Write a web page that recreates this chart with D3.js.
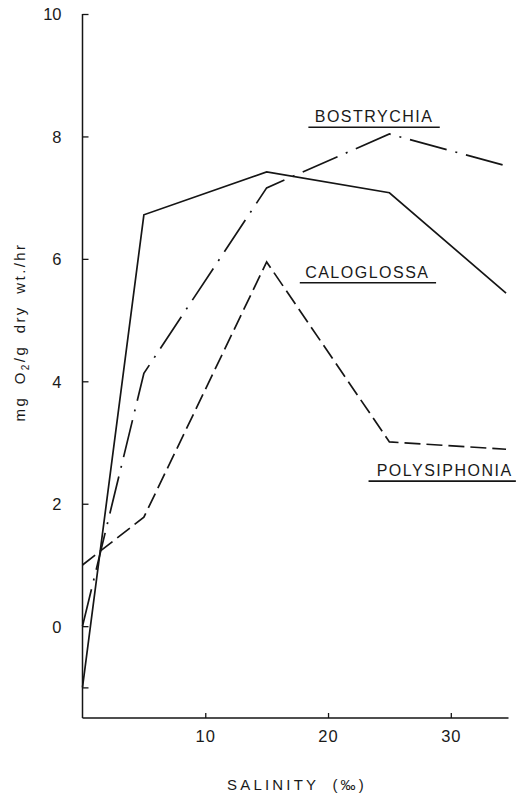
<!DOCTYPE html>
<html>
<head>
<meta charset="utf-8">
<script src="https://cdn.jsdelivr.net/npm/d3@7"></script>
<style>
  html, body { margin: 0; padding: 0; background: #fff; }
  svg { display: block; }
  text { font-family: "Liberation Sans", Arial, sans-serif; fill: #1a1a1a; }
</style>
</head>
<body>
<svg id="chart" width="516" height="796"></svg>
<script>
// ---- data ----
const salinity = [0, 5, 15, 25, 34.5];
const bostrychia = [0, 4.13, 7.16, 8.04, 7.52];
const caloglossa = [-1, 6.72, 7.42, 7.08, 5.44];
const polysiphonia = [1, 1.78, 5.95, 3.01, 2.89];

const xTicks = [10, 20, 30];
const yTicks = [-1, 0, 2, 4, 6, 8, 10];
const yTickLabels = ["", "0", "2", "4", "6", "8", "10"];

const seriesNames = ["BOSTRYCHIA", "CALOGLOSSA", "POLYSIPHONIA"];
const seriesValues = [bostrychia, caloglossa, polysiphonia];
const seriesDash = ["38,9,2,9", null, "16,6"];
// label positions in data units: [center x, baseline y, underline x0, underline x1, underline y]
const labelPos = [
  [23.75, 8.24, 18.4, 29.1, 8.15],
  [23.2, 5.69, 17.7, 28.8, 5.61],
  [29.5, 2.45, 23.3, 35.3, 2.37]
];

const xTitle = "SALINITY (\u2030)";

// ---- scales ----
const svg = d3.select("#chart");
const x = d3.scaleLinear().domain([0, 34.7]).range([82.5, 508.5]);
const y = d3.scaleLinear().domain([-1.5, 10]).range([718, 14]);

const ink = "#151515";

// axes
const yAxis = d3.axisRight(y).tickValues(yTicks).tickSize(6).tickFormat("");
const gy = svg.append("g").attr("transform", `translate(${x(0)},0)`).call(yAxis);
gy.select(".domain").attr("d", `M0,${y(10)}V${y(-1.5)}`).attr("stroke", ink).attr("stroke-width", 1.5);
gy.selectAll(".tick line").attr("stroke", ink).attr("stroke-width", 1.3);

gy.selectAll(".tick").append("text")
  .attr("x", -21).attr("dy", "0.36em")
  .attr("text-anchor", "end")
  .style("font-size", "16.5px")
  .text((d, i) => yTickLabels[i]);

const xAxis = d3.axisTop(x).tickValues(xTicks).tickSize(5).tickFormat("");
const gx = svg.append("g").attr("transform", `translate(0,${y(-1.5)})`).call(xAxis);
gx.select(".domain").attr("d", `M${x(0)},0H${x(34.7)}`).attr("stroke", ink).attr("stroke-width", 1.5);
gx.selectAll(".tick line").attr("stroke", ink).attr("stroke-width", 1.3);
gx.selectAll(".tick").append("text")
  .attr("y", 24).attr("text-anchor", "middle")
  .style("font-size", "16.5px").style("letter-spacing", "1px")
  .text(d => d);

// titles
svg.append("text")
  .attr("x", 297).attr("y", 790)
  .attr("text-anchor", "middle")
  .style("font-size", "15px").style("letter-spacing", "3.2px").style("word-spacing", "6px")
  .text(xTitle);

const yt = svg.append("text")
  .attr("transform", "translate(25,332) rotate(-90)")
  .attr("text-anchor", "middle")
  .style("font-size", "15px").style("letter-spacing", "2.4px").style("word-spacing", "5px");
yt.append("tspan").text("mg O");
yt.append("tspan").attr("dy", 4).style("font-size", "10px").text("2");
yt.append("tspan").attr("dy", -4).text("/g dry wt./hr");

// lines
const line = d3.line().x(d => x(d[0])).y(d => y(d[1]));
seriesValues.forEach((vals, i) => {
  const pts = salinity.map((s, j) => [s, vals[j]]);
  svg.append("path")
    .attr("d", line(pts))
    .attr("fill", "none")
    .attr("stroke", ink)
    .attr("stroke-width", 1.7)
    .attr("stroke-linejoin", "miter")
    .attr("stroke-dasharray", seriesDash[i]);
});

// series labels
seriesNames.forEach((name, i) => {
  const p = labelPos[i];
  svg.append("text")
    .attr("x", x(p[0])).attr("y", y(p[1]))
    .attr("text-anchor", "middle")
    .style("font-size", "16px").style("letter-spacing", "1.5px")
    .text(name);
  svg.append("line")
    .attr("x1", x(p[2])).attr("x2", x(p[3]))
    .attr("y1", y(p[4])).attr("y2", y(p[4]))
    .attr("stroke", ink).attr("stroke-width", 1.6);
});
</script>
</body>
</html>
